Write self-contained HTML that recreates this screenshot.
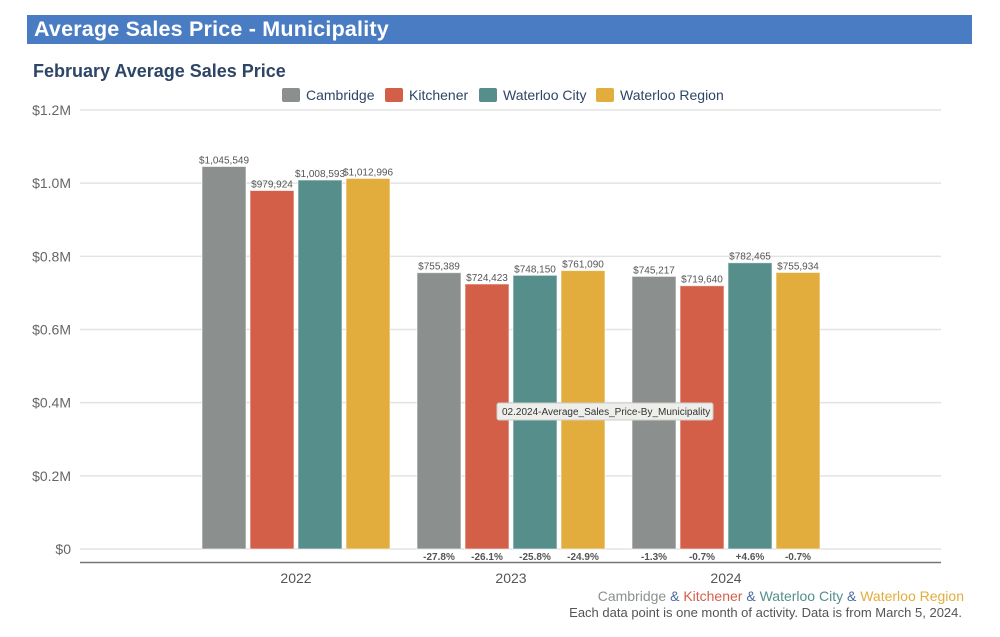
<!DOCTYPE html>
<html><head><meta charset="utf-8"><style>
body{margin:0;width:1000px;height:637px;background:#fff;overflow:hidden;font-family:"Liberation Sans",sans-serif;position:relative}
.hdr{position:absolute;left:27px;top:15px;width:945px;height:29px;background:#4a7cc4;color:#fff;font-weight:bold;font-size:21.5px;line-height:29px;padding-left:7px;box-sizing:border-box;letter-spacing:0.2px}
.sub{position:absolute;left:33px;top:61px;font-size:18px;font-weight:bold;color:#2d4566}
svg{position:absolute;left:0;top:0}
</style></head><body>
<div class="hdr">Average Sales Price - Municipality</div>
<div class="sub">February Average Sales Price</div>
<svg id="chart" width="1000" height="637"></svg>
<script>
const years=["2022","2023","2024"];
const series=["Cambridge","Kitchener","Waterloo City","Waterloo Region"];
const colors=["#8b908f","#d45f48","#558e8b","#e2ad3c"];
const cambridge=[1045549,755389,745217];
const kitchener=[979924,724423,719640];
const waterlooCity=[1008593,748150,782465];
const waterlooRegion=[1012996,761090,755934];
const pctLabels=[["","","",""],["-27.8%","-26.1%","-25.8%","-24.9%"],["-1.3%","-0.7%","+4.6%","-0.7%"]];
const yTicks=[0,200000,400000,600000,800000,1000000,1200000];
const yTickLabels=["$0","$0.2M","$0.4M","$0.6M","$0.8M","$1.0M","$1.2M"];
const values=[cambridge,kitchener,waterlooCity,waterlooRegion];
const NS="http://www.w3.org/2000/svg";
const svg=document.getElementById('chart');
const y0=549,y1=110,yMax=1200000;
const yScale=v=>y0-(v/yMax)*(y0-y1);
const gx=i=>296+i*215;
const barW=44,step=48;
function mk(tag,attrs,txt){const e=document.createElementNS(NS,tag);for(const k in attrs)e.setAttribute(k,attrs[k]);if(txt!==undefined)e.textContent=txt;svg.appendChild(e);return e;}
yTicks.forEach((t,i)=>{
  const l=mk('line',{x1:80,x2:941,y1:yScale(t),y2:yScale(t),stroke:'#e3e3e3','stroke-width':1.5});
  
  
  const tx=mk('text',{x:71,y:yScale(t)+5,'text-anchor':'end','font-size':14,fill:'#666'},yTickLabels[i]);
  
  
});
const ax=mk('line',{x1:80,x2:941,y1:562.5,y2:562.5,stroke:'#777','stroke-width':1.5});


years.forEach((yr,i)=>{
  const t=mk('text',{x:gx(i),y:583,'text-anchor':'middle','font-size':14,fill:'#555'},yr);
  
  
  series.forEach((s,j)=>{
    const v=values[j][i];
    const x=gx(i)-2*step+j*step+2;
    const r=mk('rect',{x:x,y:yScale(v),width:barW,height:y0-yScale(v),fill:colors[j],stroke:'rgba(255,255,255,0.6)','stroke-width':1});
    
    
    const lb=mk('text',{x:x+barW/2,y:yScale(v)-3,'text-anchor':'middle','font-size':10,fill:'#555'},'$'+v.toLocaleString('en-US'));
    
    
    if(pctLabels[i][j]){
      const p=mk('text',{x:x+barW/2,y:560,'text-anchor':'middle','font-size':10,'font-weight':'bold',fill:'#555'},pctLabels[i][j]);
      
      
    }
  });
});
const legX=[282,385,479,596];
series.forEach((s,j)=>{
  const r=mk('rect',{x:legX[j],y:88,width:18,height:14,rx:2,fill:colors[j]});
  
  
  const t=mk('text',{x:legX[j]+24,y:100,'font-size':14,fill:'#2d4566'},s);
  
  
});
const tb=mk('rect',{x:497,y:403,width:216,height:17,fill:'#eeeeea',stroke:'#ccc','stroke-width':1,rx:2});


const tt=mk('text',{x:502,y:415,'font-size':10,fill:'#333'},'02.2024-Average_Sales_Price-By_Municipality');


const f1=mk('text',{x:964,y:601,'text-anchor':'end','font-size':14});


[["Cambridge","#8b908f"],[" & ","#4a6a9c"],["Kitchener","#d45f48"],[" & ","#4a6a9c"],["Waterloo City","#558e8b"],[" & ","#4a6a9c"],["Waterloo Region","#e2ad3c"]].forEach(([t,c])=>{
  const s=document.createElementNS(NS,'tspan');s.setAttribute('fill',c);s.textContent=t;f1.appendChild(s);
});
const f2=mk('text',{x:962,y:617,'text-anchor':'end','font-size':13,fill:'#555'},'Each data point is one month of activity. Data is from March 5, 2024.');


</script>
</body></html>
